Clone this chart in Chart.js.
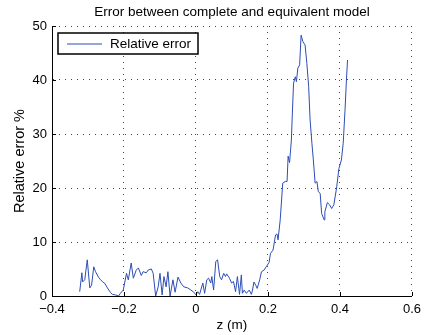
<!DOCTYPE html>
<html>
<head>
<meta charset="utf-8">
<script src="https://cdn.jsdelivr.net/npm/chart.js@4/dist/chart.umd.min.js"></script>
<style>
  html, body { margin: 0; padding: 0; background: #fff; }
  #c { display: block; }
</style>
</head>
<body>
<canvas id="c" width="427" height="335"></canvas>
<script>
// position along z (m) and relative error (%)
var zValues = [
    -0.323, -0.317, -0.315, -0.309, -0.302, -0.295, -0.290, -0.284, -0.279, -0.271,
    -0.265, -0.259, -0.254, -0.246, -0.237, -0.232, -0.224, -0.215, -0.210, -0.202,
    -0.193, -0.188, -0.180, -0.174, -0.166, -0.160, -0.152, -0.147, -0.138, -0.133,
    -0.124, -0.119, -0.112, -0.105, -0.100, -0.094, -0.089, -0.083, -0.078, -0.072,
    -0.064, -0.058, -0.050, -0.042, -0.034, -0.023, -0.014, -0.006, 0.000, 0.005,
    0.010, 0.019, 0.024, 0.030, 0.035, 0.041, 0.044, 0.049, 0.055, 0.060,
    0.066, 0.071, 0.077, 0.082, 0.085, 0.093, 0.099, 0.104, 0.110, 0.115,
    0.121, 0.126, 0.129, 0.134, 0.140, 0.148, 0.154, 0.157, 0.161, 0.166,
    0.170, 0.177, 0.182, 0.189, 0.195, 0.203, 0.207, 0.214, 0.221, 0.225,
    0.228, 0.234, 0.241, 0.248, 0.253, 0.256, 0.260, 0.265, 0.267, 0.271,
    0.276, 0.279, 0.283, 0.288, 0.292, 0.297, 0.303, 0.308, 0.313, 0.317,
    0.322, 0.326, 0.331, 0.336, 0.340, 0.345, 0.349, 0.356, 0.358, 0.365,
    0.371, 0.377, 0.383, 0.391, 0.397, 0.404, 0.409, 0.414, 0.418, 0.421
];
var errorValues = [
    0.8, 4.3, 2.6, 3.0, 6.7, 1.5, 2.0, 5.4, 4.5, 3.5,
    3.0, 2.6, 2.4, 1.5, 0.6, 0.3, 0.2, 0.0, 0.5, 1.1,
    4.2, 3.0, 6.1, 3.3, 4.8, 5.2, 3.8, 4.5, 4.3, 4.8,
    5.0, 4.2, 0.0, 1.7, 4.2, 0.2, 3.6, 1.7, 4.5, 0.0,
    3.0, 0.7, 3.5, 2.4, 1.7, 1.5, 1.1, 0.7, 0.2, 0.8,
    0.3, 2.4, 0.5, 3.0, 3.3, 2.4, 3.6, 1.1, 6.4, 6.7,
    3.6, 3.0, 4.2, 3.6, 4.1, 3.3, 2.4, 2.7, 0.8, 3.6,
    0.3, 3.9, 0.5, 1.1, 0.5, 1.1, 0.3, 1.1, 2.6, 2.0,
    1.4, 3.0, 4.5, 4.8, 5.4, 6.2, 7.9, 8.5, 11.3, 11.5,
    10.4, 14.1, 20.9, 21.2, 21.2, 25.9, 24.7, 28.9, 32.6, 39.4,
    40.6, 39.7, 42.2, 42.8, 48.3, 47.1, 46.5, 43.1, 38.8, 32.6,
    28.3, 25.2, 20.9, 21.2, 19.3, 19.0, 15.3, 14.1, 15.6, 17.3,
    16.9, 16.2, 16.9, 20.2, 23.6, 25.2, 28.3, 34.4, 40.0, 43.7
];
var xTicks = [-0.4, -0.2, 0, 0.2, 0.4, 0.6];
var yTicks = [0, 10, 20, 30, 40, 50];

var FONT = "'Liberation Sans', Arial, Helvetica, sans-serif";
var LINE_COLOR = '#2d4db5';

function fmtTick(v) {
    if (Math.abs(v) < 1e-9) return '0';
    var s = Math.abs(v).toFixed(1);
    return (v < 0 ? '\u2212' : '') + s;
}

// MATLAB style inward ticks on left and bottom axes
var inwardTicks = {
    id: 'inwardTicks',
    afterDraw: function (chart) {
        var ctx = chart.ctx, a = chart.chartArea;
        var xs = chart.scales.x, ys = chart.scales.y;
        ctx.save();
        ctx.strokeStyle = '#000';
        ctx.lineWidth = 1;
        ctx.beginPath();
        xTicks.forEach(function (t) {
            var p = Math.round(xs.getPixelForValue(t)) + 0.5;
            ctx.moveTo(p, a.bottom);
            ctx.lineTo(p, a.bottom - 4);
        });
        yTicks.forEach(function (t) {
            var p = Math.round(ys.getPixelForValue(t)) + 0.5;
            ctx.moveTo(a.left, p);
            ctx.lineTo(a.left + 4, p);
        });
        ctx.stroke();
        ctx.restore();
    }
};

// boxed legend in upper left corner
var boxLegend = {
    id: 'boxLegend',
    afterDraw: function (chart) {
        var ctx = chart.ctx, a = chart.chartArea;
        var ds = chart.data.datasets[0];
        var x = a.left + 6, y = a.top + 7, w = 140, h = 21;
        ctx.save();
        ctx.fillStyle = '#fff';
        ctx.fillRect(x, y, w, h);
        ctx.strokeStyle = '#000';
        ctx.lineWidth = 1.5;
        ctx.strokeRect(x, y, w, h);
        ctx.strokeStyle = ds.borderColor;
        ctx.lineWidth = 1;
        ctx.beginPath();
        ctx.moveTo(x + 9, y + h / 2 + 0.5);
        ctx.lineTo(x + 44, y + h / 2 + 0.5);
        ctx.stroke();
        ctx.fillStyle = '#000';
        ctx.font = '13.5px ' + FONT;
        ctx.textBaseline = 'middle';
        ctx.fillText(ds.label, x + 52, y + h / 2 + 1);
        ctx.restore();
    }
};

var points = zValues.map(function (z, i) { return { x: z, y: errorValues[i] }; });

new Chart(document.getElementById('c').getContext('2d'), {
    type: 'line',
    data: {
        datasets: [{
            label: 'Relative error',
            data: points,
            borderColor: LINE_COLOR,
            borderWidth: 1,
            pointRadius: 0,
            fill: false,
            tension: 0
        }]
    },
    options: {
        responsive: false,
        animation: false,
        devicePixelRatio: 1,
        layout: { padding: { left: 0, right: 11, top: 0, bottom: 0 } },
        plugins: {
            legend: { display: false },
            tooltip: { enabled: false },
            title: {
                display: true,
                text: 'Error between complete and equivalent model',
                fullSize: false,
                color: '#000',
                font: { family: FONT, size: 13.5, weight: 'normal' },
                padding: { top: 4, bottom: 5.8 }
            }
        },
        scales: {
            x: {
                type: 'linear',
                min: -0.4,
                max: 0.6,
                afterFit: function (s) { s.height = 39; },
                afterBuildTicks: function (s) {
                    s.ticks = xTicks.map(function (v) { return { value: v }; });
                },
                ticks: {
                    color: '#000',
                    font: { family: FONT, size: 13 },
                    padding: 6,
                    maxRotation: 0,
                    callback: fmtTick
                },
                grid: { color: '#444', lineWidth: 1, drawTicks: false },
                border: { display: true, color: '#000', width: 1, dash: [1, 5] },
                title: {
                    display: true,
                    text: 'z (m)',
                    color: '#000',
                    font: { family: FONT, size: 13.5 },
                    padding: { top: 0, bottom: 2 }
                }
            },
            y: {
                min: 0,
                max: 50,
                afterFit: function (s) { s.width = 52; },
                afterBuildTicks: function (s) {
                    s.ticks = yTicks.map(function (v) { return { value: v }; });
                },
                ticks: {
                    color: '#000',
                    font: { family: FONT, size: 13 },
                    padding: 5
                },
                grid: { color: '#444', lineWidth: 1, drawTicks: false },
                border: { display: true, color: '#000', width: 1, dash: [1, 5] },
                title: {
                    display: true,
                    text: 'Relative error %',
                    color: '#000',
                    font: { family: FONT, size: 14.5 },
                    padding: { top: 11, bottom: 0 }
                }
            }
        }
    },
    plugins: [inwardTicks, boxLegend]
});
</script>
</body>
</html>
